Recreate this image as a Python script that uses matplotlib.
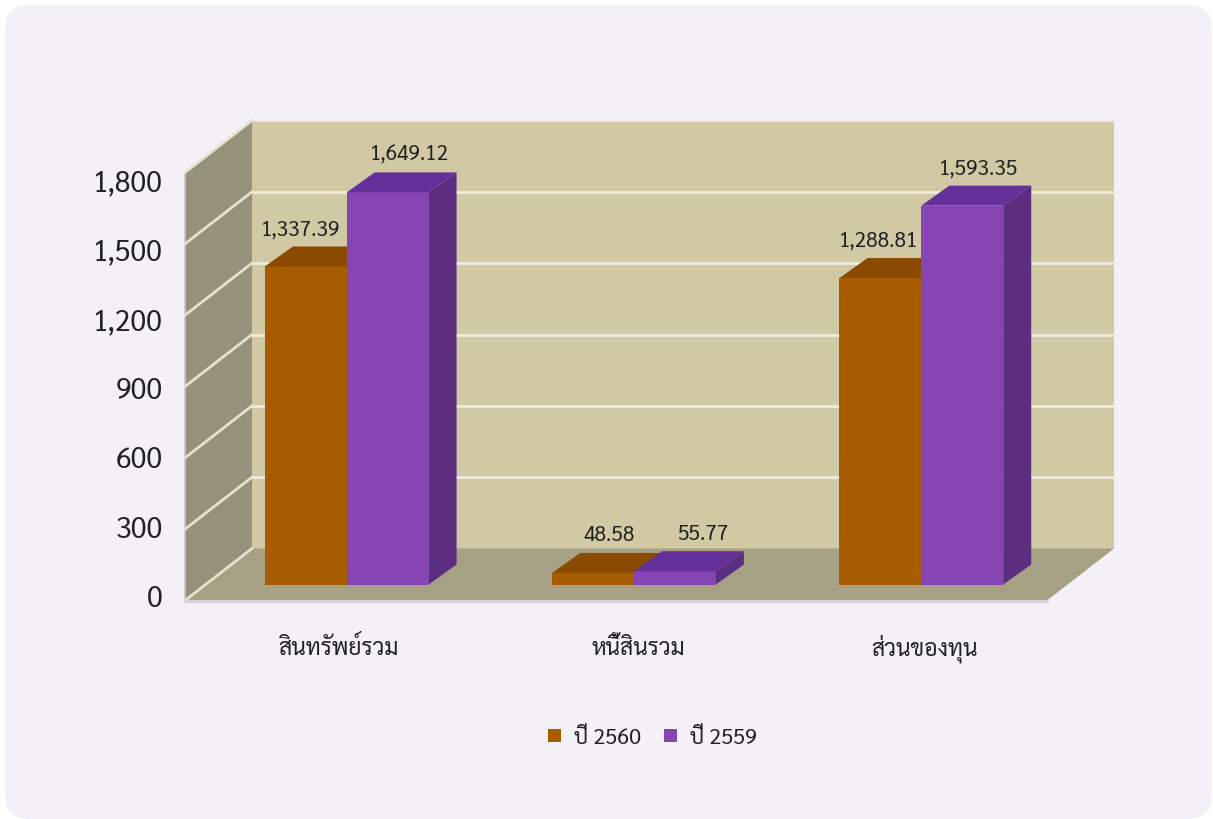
import matplotlib
matplotlib.use('Agg')
import matplotlib.pyplot as plt
from matplotlib.patches import FancyBboxPatch, Polygon
from matplotlib.transforms import offset_copy

plt.rcParams['font.family'] = ['Sarabun', 'Noto Sans Thai', 'Noto Sans', 'DejaVu Sans']

categories = ['สินทรัพย์รวม', 'หนี้สินรวม', 'ส่วนของทุน']
series_names = ['ปี 2560', 'ปี 2559']
values_2560 = [1337.39, 48.58, 1288.81]
values_2559 = [1649.12, 55.77, 1593.35]
y_ticks = [0, 300, 600, 900, 1200, 1500, 1800]

W, H = 1213, 820
fig = plt.figure(figsize=(W / 100, H / 100), dpi=100, facecolor='white')

# rounded card behind everything
bg = fig.add_axes([0, 0, 1, 1])
bg.set_xlim(0, W)
bg.set_ylim(H, 0)
bg.axis('off')
bg.add_patch(FancyBboxPatch((5, 6), W - 6, H - 6, boxstyle='round,pad=0,rounding_size=24',
                            fc='#f4f0f8', ec='none'))

# axes sits on the front plane of the 3d box
left, right, bottom, top = 185, 1047, 601.5, 173.5
ax = fig.add_axes([left / W, 1 - bottom / H, (right - left) / W, (bottom - top) / H])
ax.set_xlim(0, 3)
ax.set_ylim(0, 1800)
ax.patch.set_alpha(0)
ax.axis('off')


def shifted(dx, dy):
    return offset_copy(ax.transData, fig=fig, x=dx, y=dy, units='dots')


def pt(t, x, y):
    return t.transform((x, y))


def poly(points, color, z):
    ax.add_patch(Polygon(points, transform=None, fc=color, ec='none', zorder=z, clip_on=False))


px = ax.transData
back = shifted(67, 52)
poly([pt(back, 0, 0), pt(back, 3, 0), pt(back, 3, 1800), pt(back, 0, 1800)], '#d1c9a4', 1)
poly([pt(px, 0, 0), pt(px, 0, 1800), pt(back, 0, 1800), pt(back, 0, 0)], '#96917b', 1)
poly([pt(px, 0, 0), pt(px, 3, 0), pt(back, 3, 0), pt(back, 0, 0)], '#a6a184', 2)
ax.plot([0, 3], [0, 0], color='#d3d0dd', lw=2, zorder=3, clip_on=False)
ax.plot([0, 0], [0, 1800], color='#c9c6c4', lw=1.2, zorder=3, clip_on=False)

for t in y_ticks:
    a, b = pt(px, 0, t), pt(back, 0, t)
    ax.plot([a[0], b[0]], [a[1], b[1]], transform=None, color='#e6e2cc', lw=2, zorder=3, clip_on=False)
    if 0 < t < 1800:
        ax.plot([0, 3], [t, t], transform=back, color='#efecdc', lw=2, zorder=2, clip_on=False)
ax.plot([0, 3], [1800, 1800], transform=back, color='#e4e0c8', lw=1, zorder=2, clip_on=False)

# y labels sit on a slightly tighter scale than the box itself
lab_ax = fig.add_axes([left / W, 1 - 596 / H, (right - left) / W, (596 - 180) / H])
lab_ax.set_ylim(0, 1800)
lab_ax.set_xticks([])
lab_ax.patch.set_alpha(0)
for s in lab_ax.spines.values():
    s.set_visible(False)
lab_ax.set_yticks(y_ticks)
lab_ax.set_yticklabels([f'{t:,}' for t in y_ticks], fontsize=20.5, color='#222222')
lab_ax.tick_params(axis='y', length=0, pad=16)

# bars: front faces through ax.bar, top and side faces as polygons
bar_w = 0.285
centers = [0.5, 1.5, 2.5]
dx_front, dy_front = 18, 16
depth_x, depth_y = 28, 20
styles = [('#a85c00', '#8a4a00', '#8a4a00'), ('#8745b3', '#66309a', '#5c2e80')]
label_dx = [[-5, 16, -2], [22, 28, 16]]
front = shifted(dx_front, dy_front)
far = shifted(dx_front + depth_x, dy_front + depth_y)
for i, vals in enumerate([values_2560, values_2559]):
    face, top_c, side_c = styles[i]
    for j, (c, v) in enumerate(zip(centers, vals)):
        x0 = c - bar_w + i * bar_w
        x1 = x0 + bar_w
        ax.bar(x0, v, width=bar_w, align='edge', color=face, transform=front, zorder=5 + i * 2, clip_on=False)
        poly([pt(front, x0, v), pt(front, x1, v), pt(far, x1, v), pt(far, x0, v)], top_c, 5 + i * 2)
        poly([pt(front, x1, 0), pt(front, x1, v), pt(far, x1, v), pt(far, x1, 0)], side_c, 4 + i * 2)
        ax.annotate(f'{v:,.2f}', (x0 + bar_w / 2, v), xycoords=front, xytext=(label_dx[i][j], 38),
                    textcoords='offset pixels', ha='center', va='center', fontsize=15, color='#222222', zorder=10)

cat_dx = [10, 22, 21]
for c, name, d in zip(centers, categories, cat_dx):
    ax.annotate(name, (c, 0), xycoords='data', xytext=(d, -47), textcoords='offset pixels',
                ha='center', va='center', fontsize=16.5, color='#222222')

for x, y, col, name in [(554, 737, '#a85c00', series_names[0]), (670, 737, '#8745b3', series_names[1])]:
    bg.add_patch(Polygon([(x - 6, y - 7), (x + 7, y - 7), (x + 7, y + 6), (x - 6, y + 6)], fc=col, ec='none'))
    bg.text(x + 20, y + 2, name, fontsize=15.5, va='center', ha='left', color='#222222')

fig.savefig('out.png', dpi=100)
